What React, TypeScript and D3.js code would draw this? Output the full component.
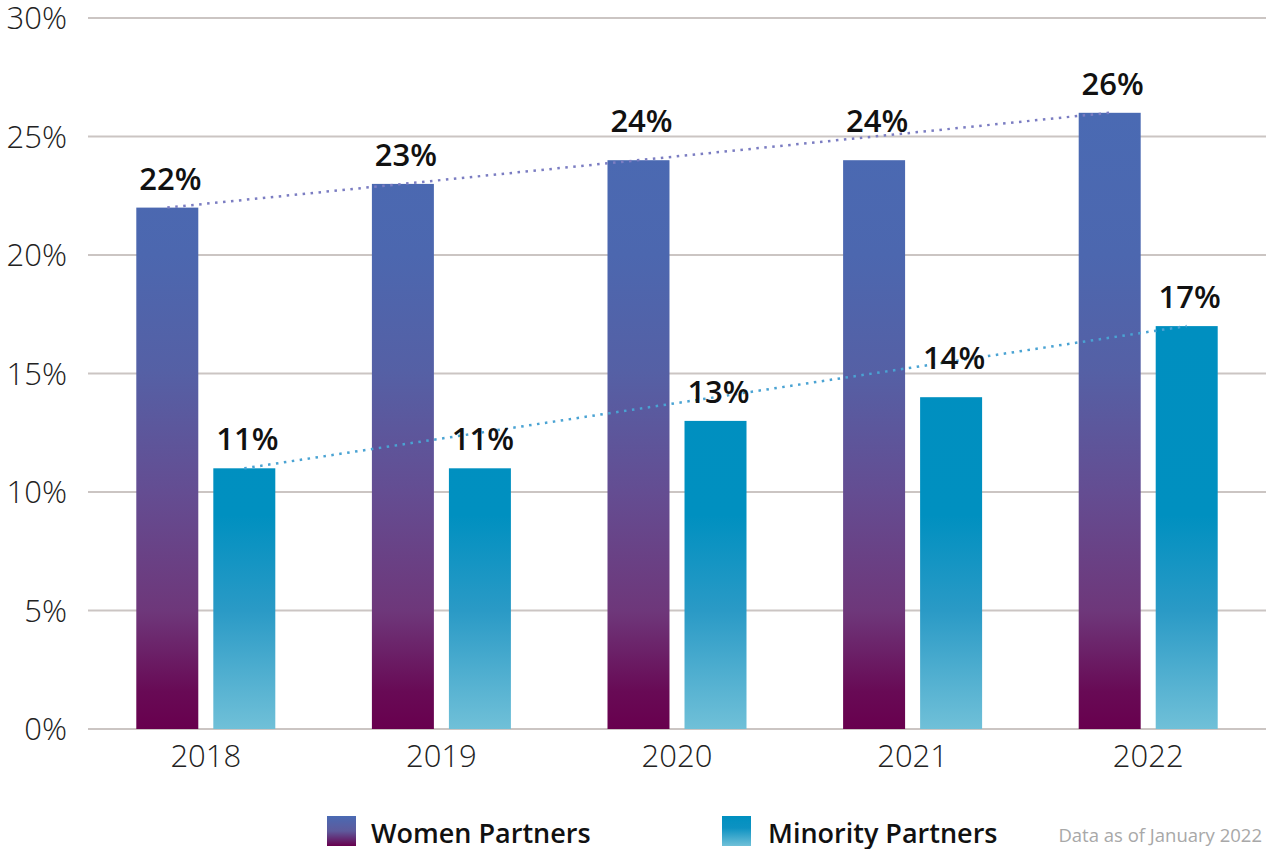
import React, { useEffect } from "react";
import * as d3 from "d3";

const years = ["2018", "2019", "2020", "2021", "2022"];
const womenPartners = [22, 23, 24, 24, 26];
const minorityPartners = [11, 11, 13, 14, 17];
const yTicks = [0, 5, 10, 15, 20, 25, 30];
const seriesNames = ["Women Partners", "Minority Partners"];
const footnote = "Data as of January 2022";

const W = 1266;
const H = 849;
const FONT = "'Open Sans', 'Noto Sans', sans-serif";

export default function App() {
  useEffect(() => {
    document.body.style.margin = "0";
  }, []);

  const y = d3.scaleLinear().domain([0, 30]).range([729, 18]);
  const x0 = d3
    .scaleBand<string>()
    .domain(years)
    .range([88, 1266])
    .paddingInner(0.41)
    .paddingOuter(0.205);
  const x1 = d3
    .scaleBand<string>()
    .domain(seriesNames)
    .range([0, x0.bandwidth()])
    .paddingInner(0.195)
    .paddingOuter(0);

  const series = [
    { name: seriesNames[0], values: womenPartners, fill: "url(#gWomen)", trend: "#7b7dc2" },
    { name: seriesNames[1], values: minorityPartners, fill: "url(#gMinority)", trend: "#4aa3d3" },
  ];

  const labelY = (v: number) => {
    let base = y(v) - 18;
    for (const t of yTicks) {
      const ty = y(t);
      if (ty > base - 22 && ty < base + 4) base = ty - 5;
    }
    return base;
  };

  const line = d3
    .line<[number, number]>()
    .x((d) => d[0])
    .y((d) => d[1]);

  return (
    <svg width={W} height={H} style={{ position: "absolute", left: 0, top: 0, background: "#fff" }}>
      <defs>
        <linearGradient id="gWomen" gradientUnits="userSpaceOnUse" x1="0" x2="0" y1={y(26)} y2={y(0)}>
          <stop offset="0" stopColor="#4a6ab3" />
          <stop offset="0.23" stopColor="#4c67af" />
          <stop offset="0.42" stopColor="#5560a5" />
          <stop offset="0.615" stopColor="#644d92" />
          <stop offset="0.81" stopColor="#6e377a" />
          <stop offset="0.94" stopColor="#680a55" />
          <stop offset="1" stopColor="#68004e" />
        </linearGradient>
        <linearGradient id="gMinority" gradientUnits="userSpaceOnUse" x1="0" x2="0" y1={y(17)} y2={y(0)}>
          <stop offset="0" stopColor="#008fc0" />
          <stop offset="0.47" stopColor="#0090c0" />
          <stop offset="0.706" stopColor="#2a9ac6" />
          <stop offset="1" stopColor="#70c0d8" />
        </linearGradient>
        <linearGradient id="lgWomen" x1="0" x2="0" y1="0" y2="1">
          <stop offset="0" stopColor="#4a6ab3" />
          <stop offset="0.5" stopColor="#5e5a9c" />
          <stop offset="1" stopColor="#68004e" />
        </linearGradient>
        <linearGradient id="lgMinority" x1="0" x2="0" y1="0" y2="1">
          <stop offset="0" stopColor="#0090c0" />
          <stop offset="0.4" stopColor="#0d92c2" />
          <stop offset="1" stopColor="#70c0d8" />
        </linearGradient>
      </defs>

      {/* gridlines and y tick labels */}
      {yTicks.map((t) => (
        <g key={t}>
          <line x1={88} x2={1266} y1={y(t)} y2={y(t)} stroke="#cbc5c3" strokeWidth={2} />
          <text
            x={67}
            y={y(t)}
            dy="0.36em"
            textAnchor="end"
            fontFamily={FONT}
            fontWeight={300}
            fontSize={31}
            fill="#222"
          >
            {t}%
          </text>
        </g>
      ))}

      {/* bars */}
      {years.map((yr, i) => (
        <g key={yr} transform={`translate(${x0(yr)},0)`}>
          {series.map((s) => (
            <rect
              key={s.name}
              x={x1(s.name)}
              y={y(s.values[i])}
              width={x1.bandwidth()}
              height={y(0) - y(s.values[i])}
              fill={s.fill}
            />
          ))}
        </g>
      ))}

      {/* trend lines (first to last value) */}
      {series.map((s) => {
        const n = s.values.length - 1;
        const pts: [number, number][] = [
          [x0(years[0])! + x1(s.name)! + x1.bandwidth() / 2, y(s.values[0])],
          [x0(years[n])! + x1(s.name)! + x1.bandwidth() / 2, y(s.values[n])],
        ];
        return (
          <path
            key={s.name}
            d={line(pts) || ""}
            fill="none"
            stroke={s.trend}
            strokeWidth={2.5}
            strokeDasharray="2.5 5.5"
          />
        );
      })}

      {/* value labels */}
      {years.map((yr, i) =>
        series.map((s) => (
          <text
            key={yr + s.name}
            x={x0(yr)! + x1(s.name)! + x1.bandwidth() / 2 + 3}
            y={labelY(s.values[i])}
            textAnchor="middle"
            fontFamily={FONT}
            fontWeight={600}
            fontSize={31}
            fill="#111"
          >
            {s.values[i]}%
          </text>
        ))
      )}

      {/* x axis labels */}
      {years.map((yr) => (
        <text
          key={yr}
          x={x0(yr)! + x0.bandwidth() / 2}
          y={767}
          textAnchor="middle"
          fontFamily={FONT}
          fontWeight={300}
          fontSize={31}
          fill="#222"
        >
          {yr}
        </text>
      ))}

      {/* legend */}
      <rect x={327} y={816} width={29} height={30} fill="url(#lgWomen)" />
      <text x={371} y={843} fontFamily={FONT} fontWeight={600} fontSize={27} fill="#111">
        {seriesNames[0]}
      </text>
      <rect x={722} y={816} width={29} height={30} fill="url(#lgMinority)" />
      <text x={768} y={843} fontFamily={FONT} fontWeight={600} fontSize={27} fill="#111">
        {seriesNames[1]}
      </text>
      <text x={1262} y={842} textAnchor="end" fontFamily={FONT} fontSize={18.5} fill="#a8a8a8">
        {footnote}
      </text>
    </svg>
  );
}
